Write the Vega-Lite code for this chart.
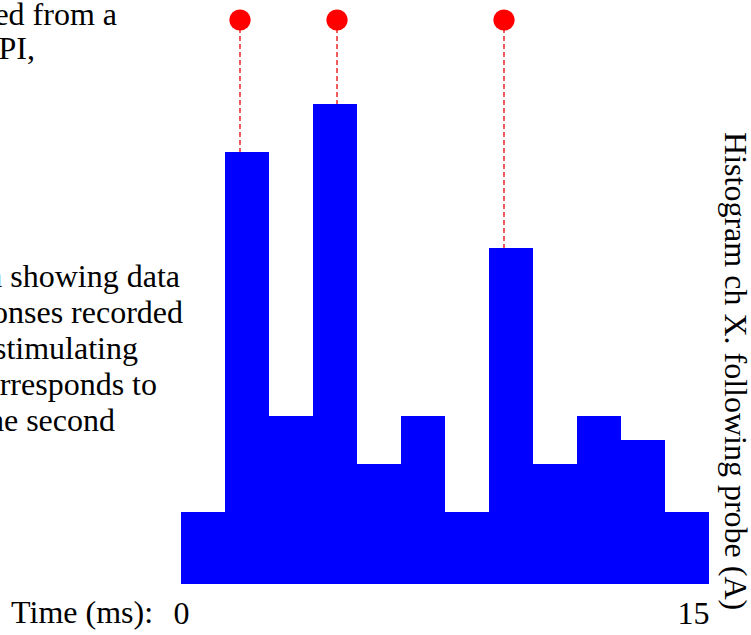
{
  "$schema": "https://vega.github.io/schema/vega-lite/v6.json",
  "width": 528,
  "height": 576,
  "autosize": {"type": "none"},
  "padding": {"left": 181, "top": 8, "right": 42, "bottom": 51},
  "config": {
    "view": {"stroke": null},
    "axis": {"grid": false},
    "axisX": {"domain": false, "ticks": false, "tickSize": 0, "labelFont": "Liberation Serif", "labelFontSize": 32, "labelColor": "black",
      "labelBaseline": "alphabetic", "labelPadding": 39, "labelFlush": false, "labelOverlap": false}
  },
  "layer": [
    {
      "data": {"values": [
        {"start": 0, "end": 1.25, "count": 3},
        {"start": 1.25, "end": 2.5, "count": 18},
        {"start": 2.5, "end": 3.75, "count": 7},
        {"start": 3.75, "end": 5, "count": 20},
        {"start": 5, "end": 6.25, "count": 5},
        {"start": 6.25, "end": 7.5, "count": 7},
        {"start": 7.5, "end": 8.75, "count": 3},
        {"start": 8.75, "end": 10, "count": 14},
        {"start": 10, "end": 11.25, "count": 5},
        {"start": 11.25, "end": 12.5, "count": 7},
        {"start": 12.5, "end": 13.75, "count": 6},
        {"start": 13.75, "end": 15, "count": 3}
      ]},
      "mark": {"type": "bar", "color": "#0000ff", "strokeWidth": 0},
      "encoding": {
        "x": {"field": "start", "type": "quantitative", "scale": {"domain": [0, 15], "nice": false, "zero": false},
          "axis": {"values": [0, 15], "title": null, "labelAlign": {"expr": "datum.value == 15 ? 'right' : 'center'"}}},
        "x2": {"field": "end"},
        "y": {"field": "count", "type": "quantitative", "scale": {"domain": [0, 24], "nice": false}, "axis": null},
        "y2": {"datum": 0}
      }
    },
    {
      "data": {"values": [
        {"t": 1.676, "top": 18, "level": 23.5},
        {"t": 4.432, "top": 20, "level": 23.5},
        {"t": 9.176, "top": 14, "level": 23.5}
      ]},
      "layer": [
        {
          "mark": {"type": "rule", "color": "#ee3333", "strokeWidth": 1.6, "strokeDash": [5, 3]},
          "encoding": {
            "x": {"field": "t", "type": "quantitative", "axis": {"values": [0, 15], "title": null, "labelAlign": {"expr": "datum.value == 15 ? 'right' : 'center'"}}},
            "y": {"field": "level", "type": "quantitative", "axis": null},
            "y2": {"field": "top"}
          }
        },
        {
          "mark": {"type": "point", "filled": true, "color": "#ff0000", "opacity": 1, "size": 450, "shape": "circle"},
          "encoding": {
            "x": {"field": "t", "type": "quantitative", "axis": {"values": [0, 15], "title": null, "labelAlign": {"expr": "datum.value == 15 ? 'right' : 'center'"}}},
            "y": {"field": "level", "type": "quantitative", "axis": null}
          }
        }
      ]
    },
    {
      "data": {"values": [
        {"x": -1.818, "y": 23.29, "text": "ed from a"},
        {"x": -4.148, "y": 21.875, "text": "PI,"},
        {"x": -0.028, "y": 12.375, "text": "n showing data"},
        {"x": 0.057, "y": 10.875, "text": "onses recorded"},
        {"x": -1.222, "y": 9.375, "text": "stimulating"},
        {"x": -0.682, "y": 7.875, "text": "orresponds to"},
        {"x": -1.875, "y": 6.375, "text": "he second"},
        {"x": -0.795, "y": -1.625, "text": "Time (ms):"}
      ]},
      "mark": {"type": "text", "font": "Liberation Serif", "fontSize": 32, "color": "black", "align": "right", "baseline": "alphabetic"},
      "encoding": {
        "x": {"field": "x", "type": "quantitative", "axis": {"values": [0, 15], "title": null, "labelAlign": {"expr": "datum.value == 15 ? 'right' : 'center'"}}},
        "y": {"field": "y", "type": "quantitative", "axis": null},
        "text": {"field": "text"}
      }
    },
    {
      "data": {"values": [{"x": 15.74, "y": 18.83, "text": "Histogram ch X. following probe (A)"}]},
      "mark": {"type": "text", "font": "Liberation Serif", "fontSize": 32, "color": "black", "align": "left", "baseline": "middle", "angle": 90},
      "encoding": {
        "x": {"field": "x", "type": "quantitative", "axis": {"values": [0, 15], "title": null, "labelAlign": {"expr": "datum.value == 15 ? 'right' : 'center'"}}},
        "y": {"field": "y", "type": "quantitative", "axis": null},
        "text": {"field": "text"}
      }
    }
  ]
}
